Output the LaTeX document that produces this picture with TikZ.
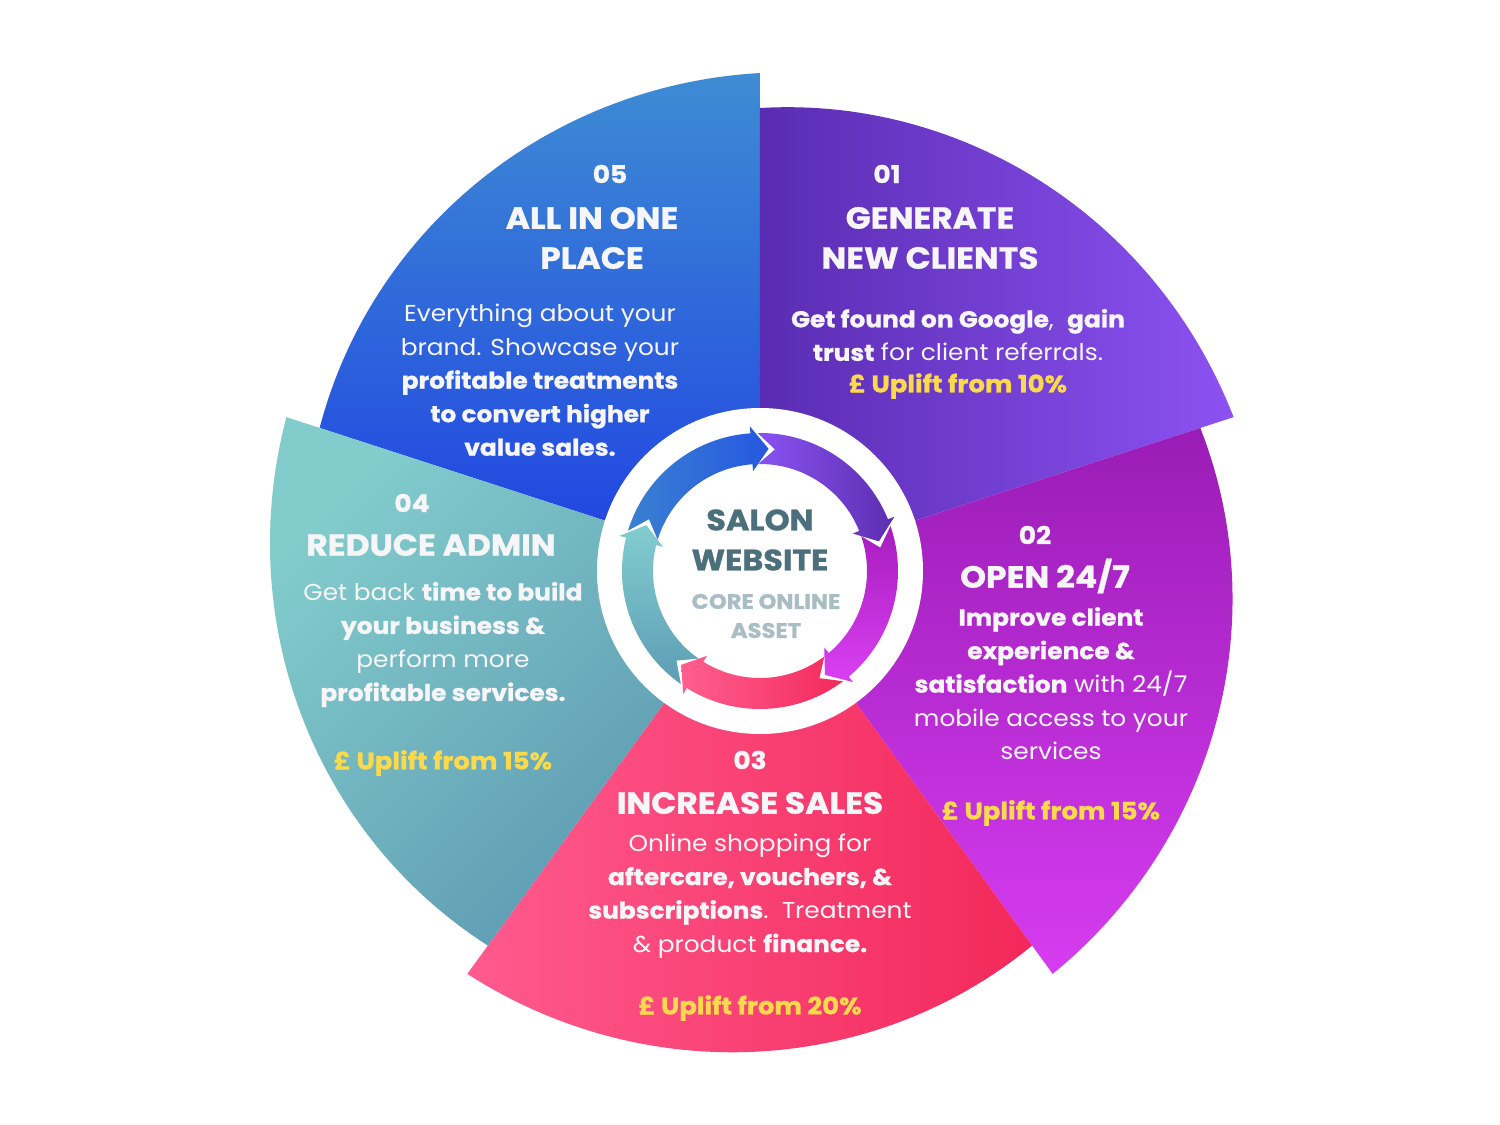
\documentclass[tikz,border=0pt]{standalone}
\usepackage{fontspec}
\setmainfont{Poppins}[FakeStretch=1.08,BoldFeatures={FakeBold=1}]
\usepackage{tikz}

\definecolor{txtwhite}{HTML}{F6F5F8}
\definecolor{uplift}{HTML}{FADA4C}
\definecolor{salon}{HTML}{4B6F7B}
\definecolor{coreasset}{HTML}{A9BDC5}
% sector colours
\definecolor{sAa}{HTML}{5A2CB2}\definecolor{sAb}{HTML}{8C52F2}
\definecolor{sBa}{HTML}{9A1CB6}\definecolor{sBb}{HTML}{D63CF0}
\definecolor{sCa}{HTML}{FF5A8E}\definecolor{sCb}{HTML}{F3285A}
\definecolor{sDa}{HTML}{82CCCC}\definecolor{sDb}{HTML}{5B96B0}
\definecolor{sEa}{HTML}{3E8CD4}\definecolor{sEb}{HTML}{1F40E2}
% ring arrow colours
\definecolor{rEa}{HTML}{3A80D2}\definecolor{rEb}{HTML}{2658E0}
\definecolor{rAa}{HTML}{8A52F2}\definecolor{rAb}{HTML}{5C2FB0}
\definecolor{rBa}{HTML}{A61DBE}\definecolor{rBb}{HTML}{DA40F2}
\definecolor{rCa}{HTML}{FF5E90}\definecolor{rCb}{HTML}{F42A5C}
\definecolor{rDa}{HTML}{82CDD0}\definecolor{rDb}{HTML}{5E9DB5}

\begin{document}
\begin{tikzpicture}[x=1pt,y=1pt,
  num/.style={text=txtwhite,font=\fontsize{24.5}{30}\selectfont\bfseries,inner sep=0pt},
  head/.style={text=txtwhite,font=\fontsize{30.5}{40}\selectfont\bfseries,align=center,inner sep=0pt},
  body/.style={text=txtwhite,font=\fontsize{23}{33.5}\selectfont,align=center,inner sep=0pt},
  gain/.style={text=uplift,font=\fontsize{24}{30}\selectfont\bfseries,inner sep=0pt}]
  \useasboundingbox (-760,-554) rectangle (740,571);
  \fill[white] (-760,-554) rectangle (740,571);

  % five sectors, radius growing clockwise
  \foreach \s/\tc/\bc/\ang in {162/sEa/sEb/0,90/sAa/sAb/90,18/sBa/sBb/0,-54/sCa/sCb/90,-126/sDa/sDb/45}
    \shade[top color=\tc,bottom color=\bc,shading angle=\ang]
      (0,0) -- plot[domain=0:72,samples=60] ({\s-\x}:{463+35*\x/72}) -- cycle;

  % hub
  \fill[white] (0,0) circle[radius=163pt];
  \foreach \B/\tc/\bc/\ang in {90/rEa/rEb/90,18/rAa/rAb/90,-54/rBa/rBb/0,-126/rCa/rCb/90,162/rDa/rDb/0}
    \shade[top color=\tc,bottom color=\bc,shading angle=\ang]
      ({\B+73}:138) arc[start angle=\B+73,end angle=\B+4,radius=138pt]
      -- ({\B+4}:145) -- ({\B-4}:122.5) -- ({\B+4}:100) -- ({\B+4}:107)
      arc[start angle=\B+4,end angle=\B+73,radius=107pt]
      -- ({\B+65}:122.5) -- cycle;

  \node[text=salon,font=\fontsize{29.5}{40}\selectfont\bfseries,align=center,inner sep=0pt] (hub) at (0,31) {SALON\\WEBSITE};
  \node[text=coreasset,font=\fontsize{21}{29}\selectfont\bfseries,align=center,inner sep=0pt] (core) at (6,-45) {CORE ONLINE\\ASSET};

  % 05
  \node[num] (n5) at (-150,397) {05};
  \node[head] (h5) at (-168,333) {ALL IN ONE\\PLACE};
  \node[body] (b5) at (-220,191) {Everything about your\\brand. Showcase your\\\textbf{profitable treatments}\\\textbf{to convert higher}\\\textbf{value sales.}};

  % 01
  \node[num] (n1) at (127,397) {01};
  \node[head] (h1) at (170,333) {GENERATE\\NEW CLIENTS};
  \node[body] (b1) at (198,236) {\textbf{Get found on Google},\ \ \textbf{gain}\\\textbf{trust} for client referrals.};
  \node[gain] (g1) at (198,185) {£ Uplift from 10\%};

  % 02
  \node[num] (n2) at (275,36) {02};
  \node[head] (h2) at (285,-5) {OPEN 24/7};
  \node[body] (b2) at (291,-112.5) {\textbf{Improve client}\\\textbf{experience \&}\\\textbf{satisfaction} with 24/7\\mobile access to your\\services};
  \node[gain] (g2) at (291,-242) {£ Uplift from 15\%};

  % 03
  \node[num] (n3) at (-10,-189) {03};
  \node[head] (h3) at (-10,-232) {INCREASE SALES};
  \node[body] (b3) at (-10,-325) {Online shopping for\\\textbf{aftercare, vouchers, \&}\\\textbf{subscriptions}.\ \ Treatment\\\& product \textbf{finance.}};
  \node[gain] (g3) at (-10,-437) {£ Uplift from 20\%};

  % 04
  \node[num] (n4) at (-348,68) {04};
  \node[head] (h4) at (-329,26) {REDUCE ADMIN};
  \node[body] (b4) at (-317,-73.5) {Get back \textbf{time to build}\\\textbf{your business \&}\\perform more\\\textbf{profitable services.}};
  \node[gain] (g4) at (-317,-192) {£ Uplift from 15\%};
\end{tikzpicture}
\end{document}
